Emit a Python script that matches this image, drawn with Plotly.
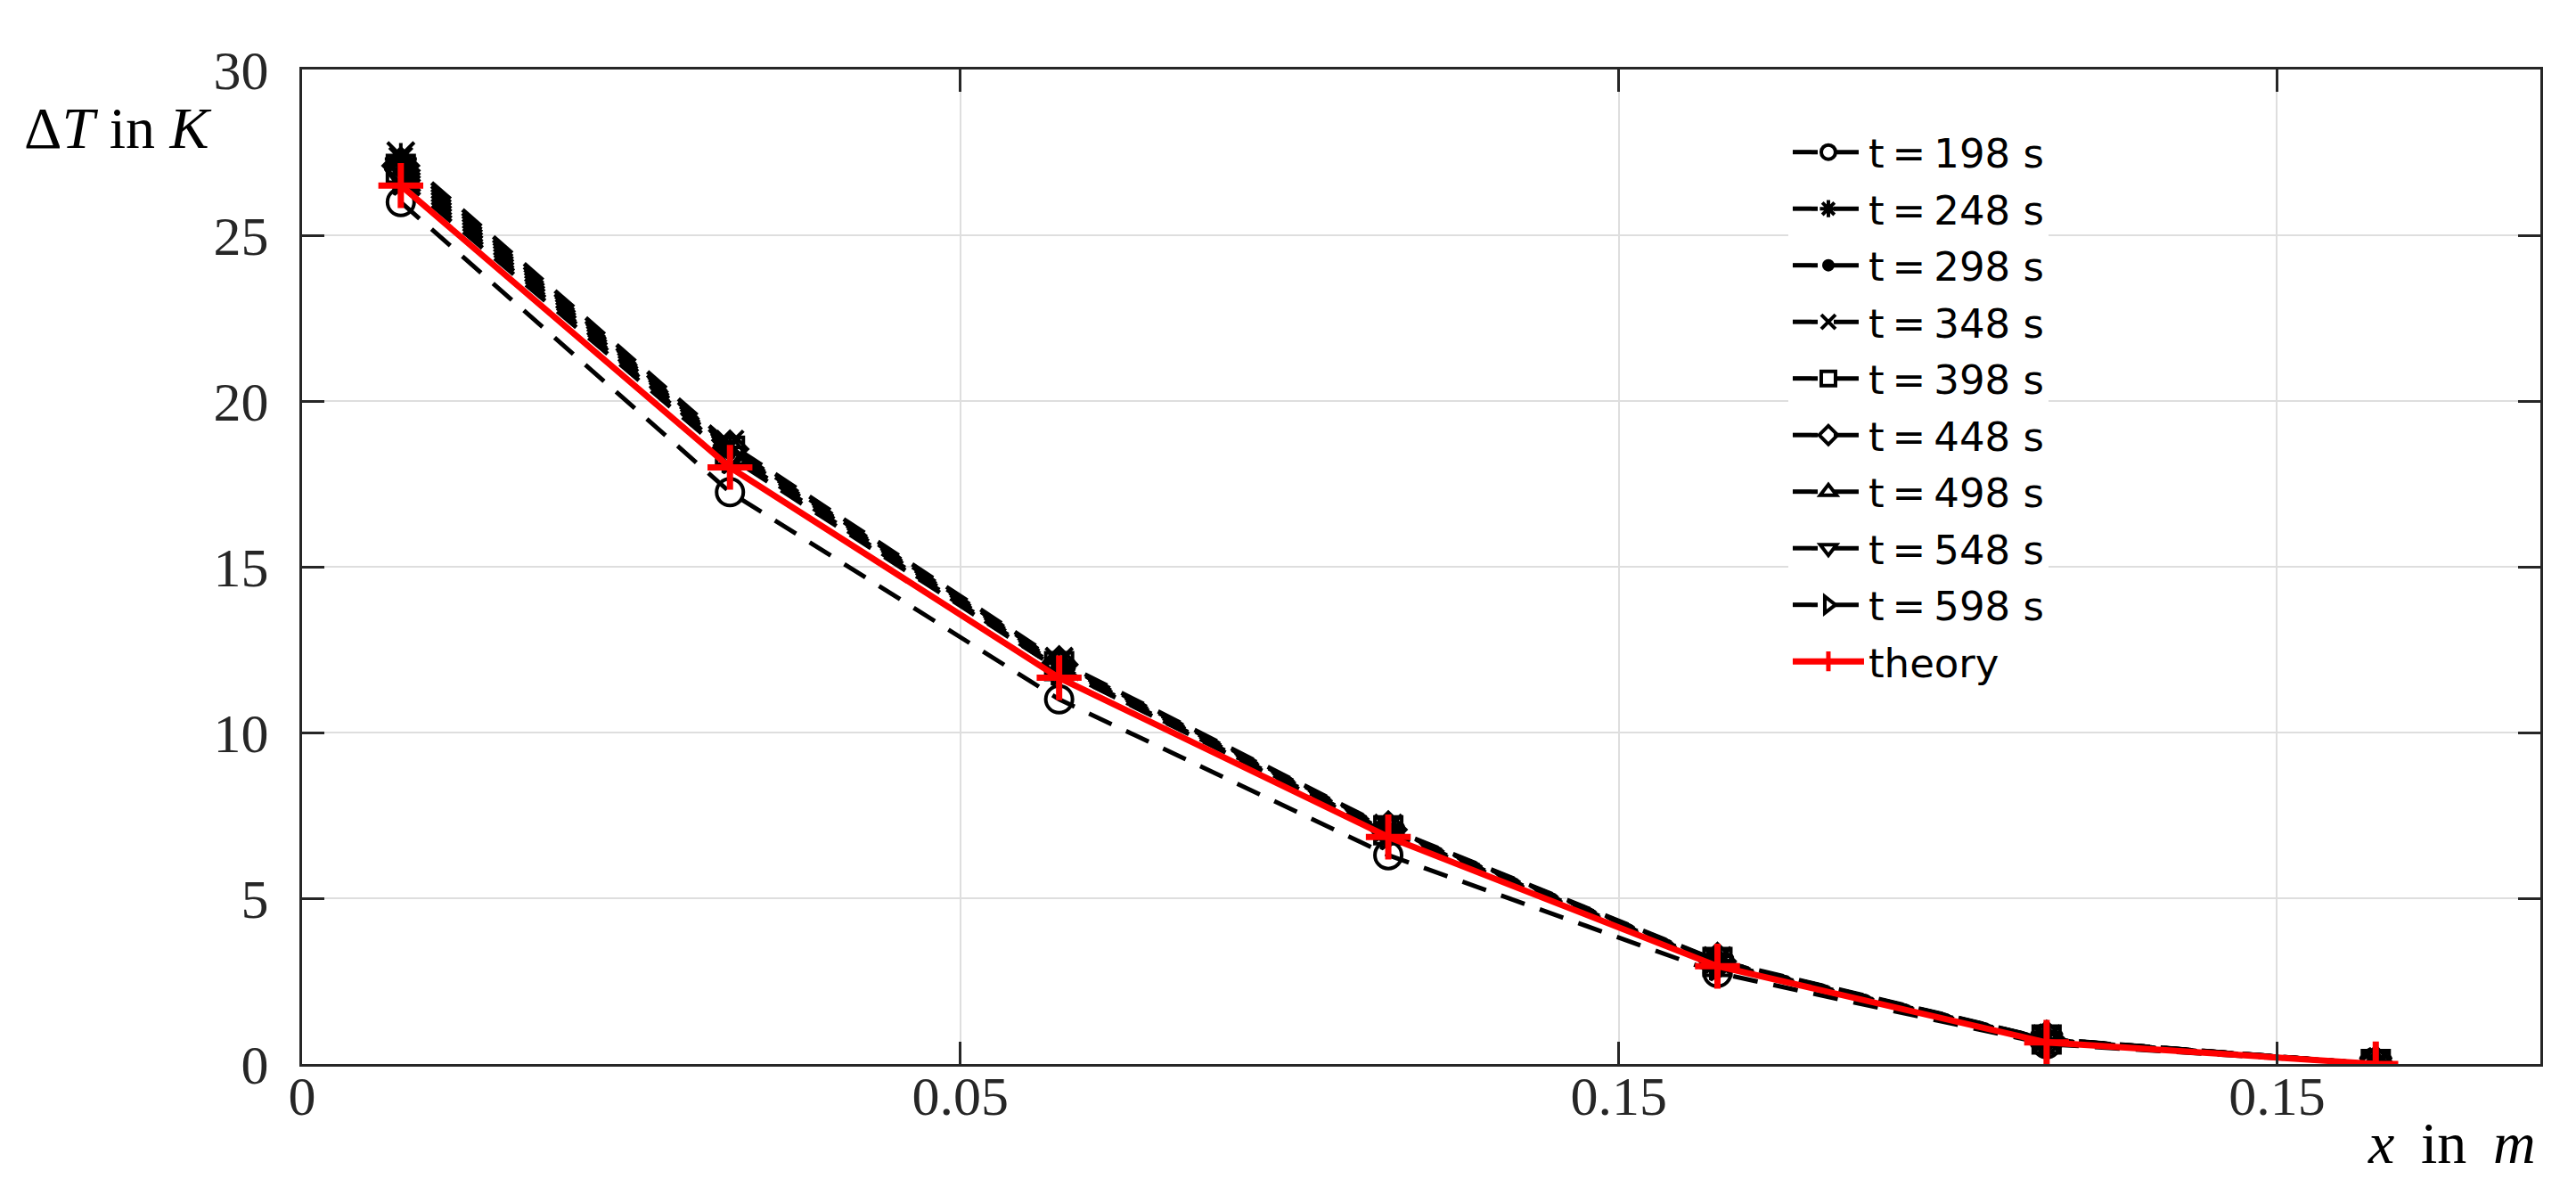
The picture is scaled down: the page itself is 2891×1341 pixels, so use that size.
import plotly.graph_objects as go

# ---- data ----
x_pos = [0.0075, 0.0325, 0.0575, 0.0825, 0.1075, 0.1325, 0.1575]
series_names = ["t\u2009=\u2009198 s", "t\u2009=\u2009248 s", "t\u2009=\u2009298 s",
                "t\u2009=\u2009348 s", "t\u2009=\u2009398 s", "t\u2009=\u2009448 s",
                "t\u2009=\u2009498 s", "t\u2009=\u2009548 s", "t\u2009=\u2009598 s"]
t198 = [26.0, 17.25, 11.0, 6.3, 2.75, 0.6, 0.0]
t248 = [27.3, 18.6, 12.1, 7.1, 3.1, 0.75, 0.0]
t298 = [26.9, 18.4, 11.9, 7.0, 3.05, 0.72, 0.0]
t348 = [27.4, 18.7, 12.15, 7.12, 3.12, 0.76, 0.0]
t398 = [27.0, 18.5, 12.0, 7.05, 3.08, 0.74, 0.0]
t448 = [27.1, 18.55, 12.05, 7.07, 3.1, 0.75, 0.0]
t498 = [27.2, 18.6, 12.1, 7.1, 3.1, 0.75, 0.0]
t548 = [26.8, 18.4, 11.95, 7.0, 3.05, 0.73, 0.0]
t598 = [26.7, 18.3, 11.9, 6.95, 3.0, 0.72, 0.0]
theory = [26.5, 18.0, 11.65, 6.85, 2.95, 0.65, 0.0]

x_tickvals = [0, 0.05, 0.1, 0.15]
x_ticktext = ["0", "0.05", "0.15", "0.15"]
y_tickvals = [0, 5, 10, 15, 20, 25, 30]

series_values = [t198, t248, t298, t348, t398, t448, t498, t548, t598]
symbols = ["circle-open", "asterisk-open", "circle", "x-thin-open", "square-open",
           "diamond-open", "triangle-up-open", "triangle-down-open", "triangle-right-open"]

fig = go.Figure()
for i, (name, vals, sym) in enumerate(zip(series_names, series_values, symbols)):
    size = 10 if sym == "circle" else 30
    fig.add_trace(go.Scatter(
        x=x_pos, y=vals, name=name, mode="lines+markers",
        legendgroup=f"g{i}",
        line=dict(color="black", width=5, dash="28px,18px"),
        marker=dict(symbol=sym, size=size, color="black",
                    line=dict(color="black", width=4)),
    ))

fig.add_trace(go.Scatter(
    x=x_pos, y=theory, name="theory", mode="lines+markers",
    legendgroup="theory",
    line=dict(color="#ff0000", width=7),
    marker=dict(symbol="cross-thin-open", size=36, color="#ff0000",
                line=dict(color="#ff0000", width=7)),
))

axis_common = dict(
    showline=True, linecolor="#262626", linewidth=3, mirror="ticks",
    ticks="inside", ticklen=25, tickwidth=3, tickcolor="#262626",
    showgrid=True, gridcolor="#dedede", gridwidth=2, zeroline=False,
    tickfont=dict(family="Liberation Serif", size=62, color="#262626"),
)

fig.update_xaxes(range=[0, 0.17], tickvals=x_tickvals, ticktext=x_ticktext,
                 ticklabelstandoff=-20, **axis_common)
fig.update_yaxes(range=[0, 30], tickvals=y_tickvals,
                 ticklabelstandoff=22, **axis_common)

fig.add_annotation(text="Δ<i>T</i> in <i>K</i>", xref="paper", yref="paper",
                   x=-0.125, y=0.941, xanchor="left", yanchor="middle",
                   showarrow=False,
                   font=dict(family="Liberation Serif", size=66, color="black"))
fig.add_annotation(text="<i>x</i>\u2009 in\u2009 <i>m</i>", xref="paper", yref="paper",
                   x=0.999, y=-0.079, xanchor="right", yanchor="middle",
                   showarrow=False,
                   font=dict(family="Liberation Serif", size=66, color="black"))

fig.update_layout(
    width=2891, height=1341,
    margin=dict(l=331, r=48, t=70, b=155),
    paper_bgcolor="white", plot_bgcolor="white",
    showlegend=True,
    legend=dict(x=0.664, y=0.949, xanchor="left", yanchor="top",
                bgcolor="white", borderwidth=0,
                font=dict(family="DejaVu Sans", size=45, color="black"),
                itemwidth=80, tracegroupgap=2),
)

fig.write_html("out.html")
